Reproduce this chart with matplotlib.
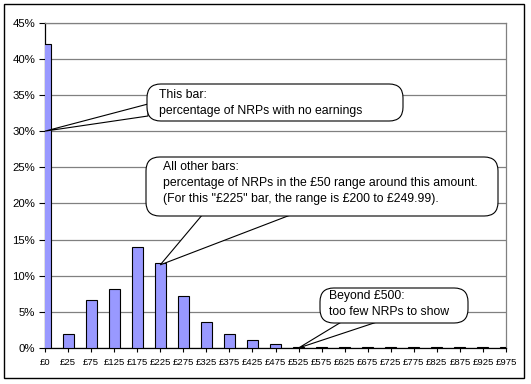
import matplotlib
matplotlib.use("Agg")
import matplotlib.pyplot as plt
from matplotlib.patches import FancyBboxPatch, Polygon, Rectangle

# earnings bands (centre of each £50 band) and share of NRPs in each, %
labels = ['£0', '£25', '£75', '£125', '£175', '£225', '£275', '£325', '£375', '£425',
          '£475', '£525', '£575', '£625', '£675', '£725', '£775', '£825', '£875',
          '£925', '£975']
share = [42.1, 2.0, 6.7, 8.1, 14.0, 11.7, 7.2, 3.55, 2.0, 1.1,
         0.55, 0.12, 0.12, 0.12, 0.12, 0.12, 0.12, 0.12, 0.12, 0.12, 0.12]

note1 = "This bar:\npercentage of NRPs with no earnings"
note2 = ("All other bars:\npercentage of NRPs in the £50 range around this amount.\n"
         "(For this \"£225\" bar, the range is £200 to £249.99).")
note3 = "Beyond £500:\ntoo few NRPs to show"

plt.rcParams['font.family'] = ['Liberation Sans', 'DejaVu Sans']

W, H = 531, 384
fig = plt.figure(figsize=(W / 100, H / 100), dpi=100)
fig.patch.set_facecolor('white')


def fx(px):
    return px / W


def fy(py):
    return 1 - py / H


ax = fig.add_axes([fx(45), fy(348), fx(506) - fx(45), fy(22.7) - fy(348)])
x = list(range(len(labels)))
ax.bar(x, share, width=0.48, color='#9999ff', edgecolor='black', linewidth=0.8, zorder=3)
ax.set_xlim(0, len(labels) - 1)
ax.set_ylim(0, 45)
ax.set_yticks(range(0, 46, 5))
ax.set_yticklabels([f'{v}%' for v in range(0, 46, 5)], fontsize=8.2)
ax.set_xticks(x)
ax.set_xticklabels(labels, family=['Liberation Sans Narrow', 'Liberation Sans'], fontsize=6.8)
ax.yaxis.grid(True, color='#808080', linewidth=0.9, zorder=0)
ax.tick_params(axis='y', length=4, width=0.8, pad=3)
ax.tick_params(axis='x', length=3, width=0.8, pad=4)
for s in ('top', 'right'):
    ax.spines[s].set_color('#808080')
    ax.spines[s].set_linewidth(0.9)
for s in ('left', 'bottom'):
    ax.spines[s].set_linewidth(0.9)

# outer chart frame
fig.patches.append(Rectangle((fx(4), fy(378)), fx(524) - fx(4), fy(4) - fy(378),
                             transform=fig.transFigure, fill=False, ec='black', lw=1))

inv = fig.transFigure.inverted()


def callout(box, base, tip_data, text, text_xy):
    l, t, r, b = box
    tip = inv.transform(ax.transData.transform(tip_data))
    pts = [(fx(base[0][0]), fy(base[0][1])), tuple(tip), (fx(base[1][0]), fy(base[1][1]))]
    fig.patches.append(Polygon(pts, closed=True, transform=fig.transFigure,
                               fc='white', ec='black', lw=0.8, zorder=5))
    fig.patches.append(FancyBboxPatch((fx(l), fy(b)), fx(r) - fx(l), fy(t) - fy(b),
                                      boxstyle='round,pad=0,rounding_size=0.026',
                                      transform=fig.transFigure, fc='white', ec='black',
                                      lw=0.8, zorder=6, mutation_aspect=W / H))
    fig.text(fx(text_xy[0]), fy(text_xy[1]), text, fontsize=8.8, ha='left', va='top',
             linespacing=1.42, zorder=7)


callout((147, 84, 403, 121), [(148, 104), (148, 116)], (0, 30), note1, (159, 89))
callout((146, 157, 498, 216), [(203, 214), (293, 214)], (5, 11.5), note2, (163, 161))
callout((320, 288, 468, 323), [(343, 321), (380, 321)], (11, 0), note3, (329, 290))

fig.savefig('out.png', dpi=100)
